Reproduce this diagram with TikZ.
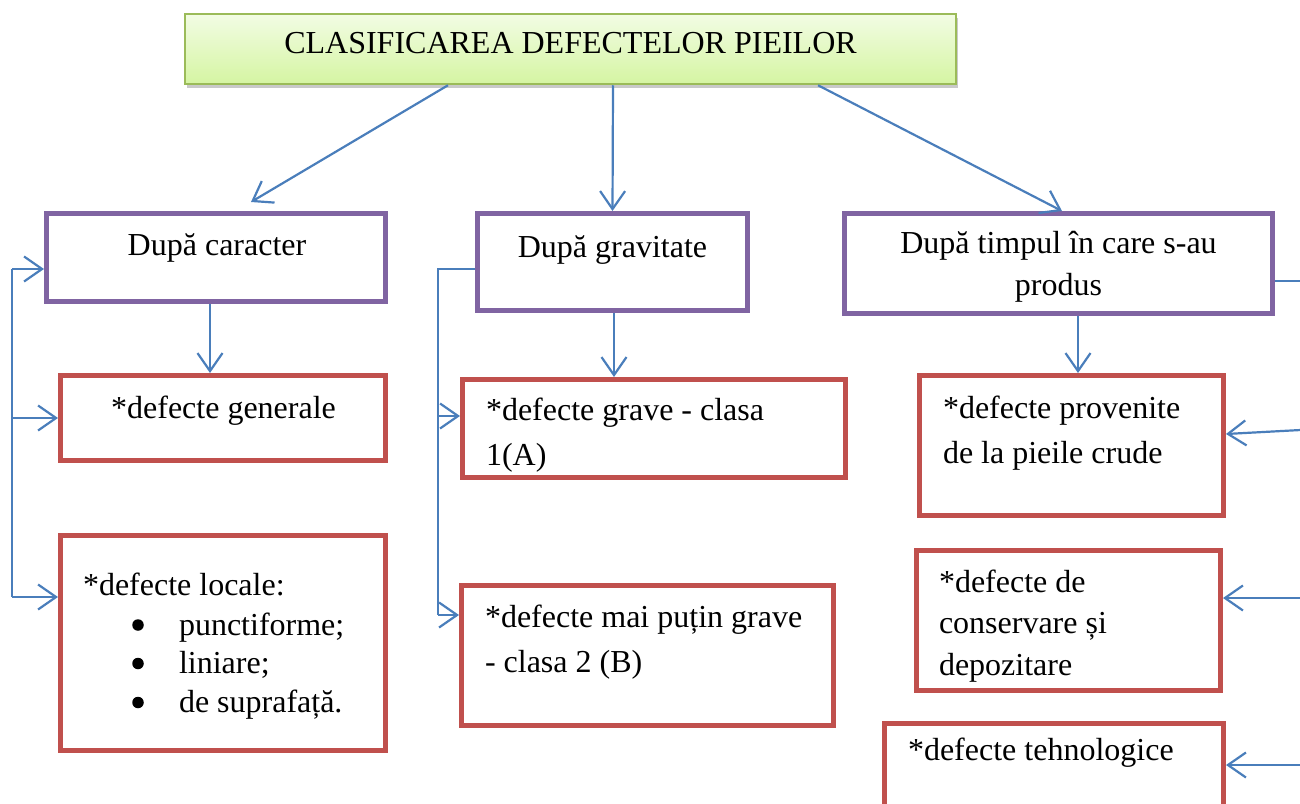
\documentclass[tikz,border=0pt]{standalone}
\usepackage{fontspec}
\setmainfont{Liberation Serif}
\usetikzlibrary{arrows.meta,calc,shadows}
\definecolor{pboxc}{HTML}{8064A2}
\definecolor{rboxc}{HTML}{C0504D}
\definecolor{arrc}{HTML}{4A7EBB}
\definecolor{ttlb}{HTML}{9BBB59}
\definecolor{ttltop}{HTML}{F2FCE4}
\definecolor{ttlbot}{HTML}{D5F5A2}
\begin{document}
\begin{tikzpicture}[x=1pt,y=-1pt,
 pbox/.style={draw=pboxc, line width=5pt, rectangle, inner sep=0pt},
 rbox/.style={draw=rboxc, line width=5pt, rectangle, inner sep=0pt},
 txt/.style={font=\fontsize{32}{38}\selectfont, inner sep=0pt, outer sep=0pt},
 bul/.style={circle, fill=black, minimum size=11.5pt, inner sep=0pt},
 arr/.style={draw=arrc, line width=2.2pt, -{Straight Barb[length=18pt,width=25pt,line width=2.2pt]}},
 ln/.style={draw=arrc, line width=2.2pt}]
\useasboundingbox (0,0) rectangle (1300,803);
\clip (0,0) rectangle (1300,803);

% title
\node[draw=ttlb, line width=2.5pt, top color=ttltop, bottom color=ttlbot,
  drop shadow={shadow xshift=2pt,shadow yshift=-4pt,opacity=0.3,fill=black!70},
  minimum width=771pt, minimum height=70pt, inner sep=0pt] (title) at (570.5,49) {};
\node[txt, anchor=base] (ttltext) at (570.5,53) {CLASIFICAREA DEFECTELOR PIEILOR};

% boxes
\node[pbox, minimum width=339pt, minimum height=88pt] (car) at (216,257.5) {};
\node[pbox, minimum width=270pt, minimum height=97pt] (grav) at (612.5,262) {};
\node[pbox, minimum width=428pt, minimum height=100pt] (timp) at (1058.5,263.5) {};
\node[rbox, minimum width=325pt, minimum height=85pt] (gen) at (223,418) {};
\node[rbox, minimum width=325pt, minimum height=215pt] (loc) at (223,643) {};
\node[rbox, minimum width=383pt, minimum height=98pt] (g1) at (654,428.5) {};
\node[rbox, minimum width=372pt, minimum height=140pt] (g2) at (647.5,655.5) {};
\node[rbox, minimum width=304pt, minimum height=140pt] (prov) at (1071.5,445.5) {};
\node[rbox, minimum width=304pt, minimum height=140pt] (cons) at (1068.5,620.5) {};
\node[rbox, minimum width=339pt, minimum height=127pt] (teh) at (1054,787) {};

% texts
\node[txt,anchor=base] (tcar) at (217,255) {După caracter};
\node[txt,anchor=base] (tgrav) at (612.5,257) {După gravitate};
\node[txt,anchor=base] (ttimpa) at (1058.5,253) {După timpul în care s-au};
\node[txt,anchor=base] (ttimpb) at (1058.5,295) {produs};
\node[txt,anchor=base] (tgen) at (223.5,418) {*defecte generale};
\node[txt,anchor=base west] (tloc) at (83,595) {*defecte locale:};
\node[bul] (bla) at (138,625) {};
\node[bul] (blb) at (138,663.5) {};
\node[bul] (blc) at (138,702.5) {};
\node[txt,anchor=base west] (tla) at (179,635) {punctiforme;};
\node[txt,anchor=base west] (tlb) at (179,673) {liniare;};
\node[txt,anchor=base west] (tlc) at (179,712) {de suprafață.};
\node[txt,anchor=base west] (tga) at (486,420) {*defecte grave - clasa};
\node[txt,anchor=base west] (tgb) at (486,465) {1(A)};
\node[txt,anchor=base west] (tgc) at (485,627) {*defecte mai puțin grave};
\node[txt,anchor=base west] (tgd) at (485,672) {- clasa 2 (B)};
\node[txt,anchor=base west] (tpa) at (943,418) {*defecte provenite};
\node[txt,anchor=base west] (tpb) at (943,463) {de la pieile crude};
\node[txt,anchor=base west] (tca) at (939,592) {*defecte de};
\node[txt,anchor=base west] (tcb) at (939,633) {conservare și};
\node[txt,anchor=base west] (tcc) at (939,675) {depozitare};
\node[txt,anchor=base west] (tte) at (908,760) {*defecte tehnologice};

% connectors from title
\draw[arr] ([xshift=-122.5pt]title.south) -- ([xshift=35pt,yshift=9pt]car.north);
\draw[arr] ([xshift=42.5pt]title.south) -- (grav.north);
\draw[arr] ([xshift=247.5pt]title.south) -- ([xshift=3.5pt]timp.north);
% down arrows
\draw[arr] ([xshift=-6pt]car.south) -- ([xshift=-13pt]gen.north);
\draw[arr] ([xshift=1.5pt]grav.south) -- ([xshift=-40pt]g1.north);
\draw[arr] ([xshift=19.5pt]timp.south) -- ([xshift=6.5pt]prov.north);

% left bracket
\coordinate (L1) at (12,269);
\coordinate (L3) at (12,597);
\draw[ln] (L1) -- (L3);
\draw[arr] (L1) -- (car.west |- L1);
\draw[arr] (L1 |- gen.west) -- (gen.west);
\draw[arr] (L3) -- (loc.west |- L3);

% middle bracket
\coordinate (M1) at (438,269);
\coordinate (M2) at (438,416);
\coordinate (M3) at (438,615);
\draw[ln] (grav.west |- M1) -- (M1) -- (M3);
\draw[arr] (M2) -- (g1.west |- M2);
\draw[arr] (M3) -- (g2.west |- M3);

% right side
\coordinate (R0) at (1310,281);
\coordinate (R1) at (1310,429.5);
\coordinate (R2) at (1310,598);
\coordinate (R3) at (1310,765);
\draw[ln] (timp.east |- R0) -- (R0);
\draw[arr] (R1) -- ([yshift=11.5pt]prov.east);
\draw[arr] (R2) -- (cons.east |- R2);
\draw[arr] (R3) -- (teh.east |- R3);
\end{tikzpicture}
\end{document}
